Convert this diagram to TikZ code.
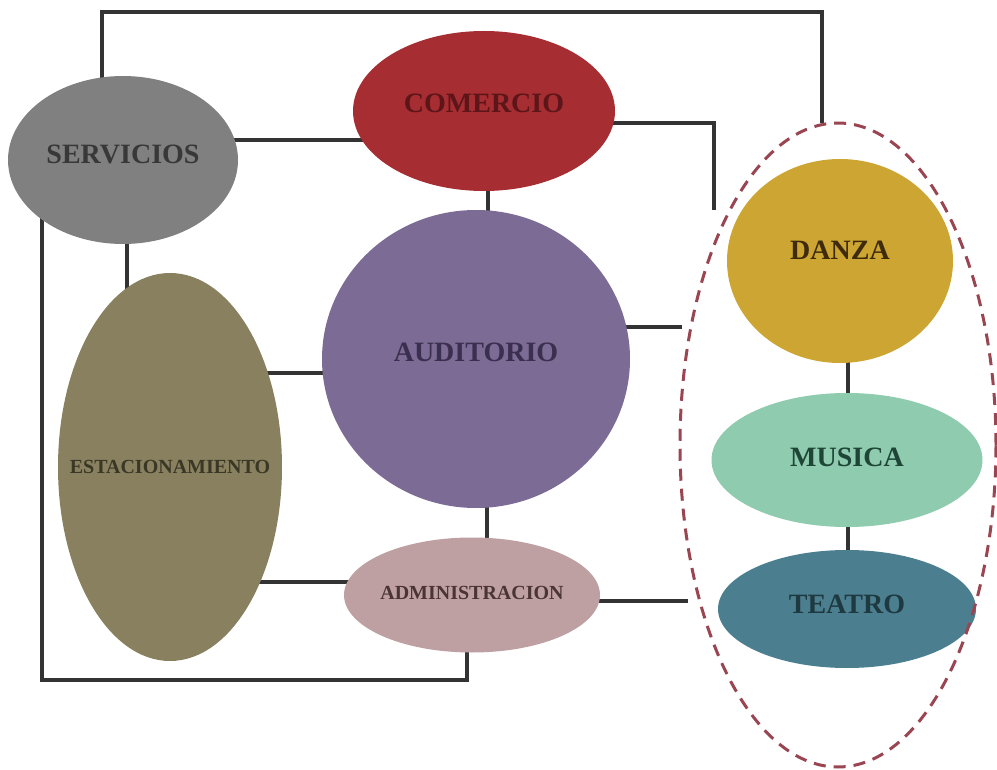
\documentclass[tikz,border=0pt]{standalone}
\usepackage{fontspec}
\setmainfont{Liberation Serif}
\usetikzlibrary{shapes.geometric}
\pgfdeclarelayer{background}
\pgfsetlayers{background,main}
\definecolor{cServ}{HTML}{808080}
\definecolor{cCom}{HTML}{A62D31}
\definecolor{cAud}{HTML}{7B6B95}
\definecolor{cEst}{HTML}{88805F}
\definecolor{cAdm}{HTML}{BEA0A2}
\definecolor{cDan}{HTML}{CCA533}
\definecolor{cMus}{HTML}{8FCBAE}
\definecolor{cTea}{HTML}{4B7F8F}
\definecolor{cDash}{HTML}{9A4652}
\definecolor{cLine}{HTML}{333333}
\definecolor{tServ}{HTML}{383838}
\definecolor{tCom}{HTML}{5C1518}
\definecolor{tAud}{HTML}{3B2F4F}
\definecolor{tEst}{HTML}{3A3726}
\definecolor{tAdm}{HTML}{4A3436}
\definecolor{tDan}{HTML}{3F2B0C}
\definecolor{tMus}{HTML}{1E4536}
\definecolor{tTea}{HTML}{1E3940}
\newcommand{\zb}[1]{\makebox[0pt][c]{#1}}
\begin{document}
\begin{tikzpicture}[x=1pt,y=-1pt,
  ell/.style={ellipse, inner sep=0pt, font=\bfseries\fontsize{28}{30}\selectfont},
  ellsmall/.style={ellipse, inner sep=0pt, font=\bfseries\fontsize{20}{22}\selectfont},
  conn/.style={line width=3.2pt, draw=cLine, line cap=butt, line join=miter},
  grpbox/.style={ellipse, inner sep=0pt, draw=cDash, line width=3pt, dash pattern=on 12pt off 8pt}]
\useasboundingbox (0,0) rectangle (997,770);

\node[ell, fill=cServ, text=tServ, minimum width=230pt, minimum height=168pt, text depth=12pt] (serv) at (123,160) {\zb{SERVICIOS}};
\node[ell, fill=cCom, text=tCom, minimum width=262pt, minimum height=160pt, text depth=16pt] (com) at (484,111) {\zb{COMERCIO}};
\node[ell, fill=cAud, text=tAud, minimum width=308pt, minimum height=298pt, text depth=14pt] (aud) at (476,359) {\zb{AUDITORIO}};
\node[ellsmall, fill=cEst, text=tEst, minimum width=224pt, minimum height=388pt] (est) at (170,467) {\zb{ESTACIONAMIENTO}};
\node[ellsmall, fill=cAdm, text=tAdm, minimum width=256pt, minimum height=115pt, text depth=4pt] (adm) at (472,595) {\zb{ADMINISTRACION}};
\node[ell, fill=cDan, text=tDan, minimum width=226pt, minimum height=204pt, text depth=22pt] (dan) at (840,261) {\zb{DANZA}};
\node[ell, fill=cMus, text=tMus, minimum width=271pt, minimum height=134pt, text depth=6pt] (mus) at (847,460) {\zb{MUSICA}};
\node[ell, fill=cTea, text=tTea, minimum width=258pt, minimum height=118pt, text depth=10pt] (tea) at (847,609) {\zb{TEATRO}};
\node[grpbox, minimum width=316pt, minimum height=644pt] (grp) at (838,445) {};

\coordinate (topend) at (822,123);
\coordinate (comend) at (714,210);
\coordinate (audend) at (682,327);
\coordinate (admend) at (688,601);

\begin{pgfonlayer}{background}
\draw[conn] (serv.center -| 102,0) |- (822,12) -- (topend);
\draw[conn] (serv.center |- 0,140) -- (com.center |- 0,140);
\draw[conn] (com.center |- 0,123) -| (comend);
\draw[conn] (com.center -| 488,0) -- (aud.center -| 488,0);
\draw[conn] (serv.center -| 127,0) -- (est.center -| 127,0);
\draw[conn] (est.center |- 0,373) -- (aud.center |- 0,373);
\draw[conn] (aud.center |- audend) -- (audend);
\draw[conn] (aud.center -| 487,0) -- (adm.center -| 487,0);
\draw[conn] (est.center |- 0,582) -- (adm.center |- 0,582);
\draw[conn] (adm.center |- admend) -- (admend);
\draw[conn] (serv.center -| 42,0) |- (467,680) -- (adm.center -| 467,0);
\draw[conn] (dan.center -| 848,0) -- (mus.center -| 848,0);
\draw[conn] (mus.center -| 848,0) -- (tea.center -| 848,0);
\end{pgfonlayer}
\end{tikzpicture}
\end{document}
